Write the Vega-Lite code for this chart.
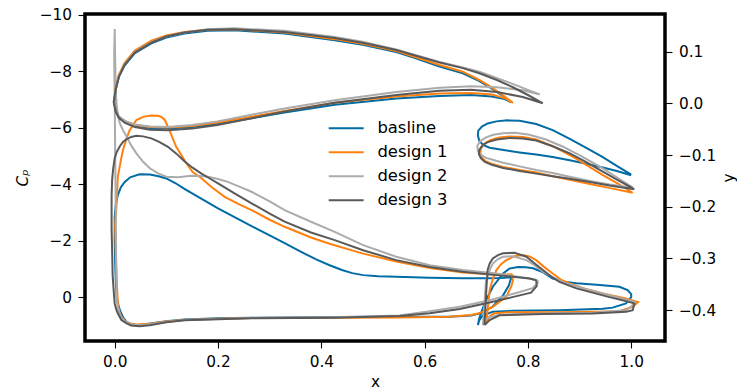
{
  "$schema": "https://vega.github.io/schema/vega-lite/v6.json",
  "width": 580,
  "height": 327,
  "autosize": {"type": "none"},
  "padding": {"left": 85, "top": 14, "right": 72, "bottom": 48},
  "background": "white",
  "config": {
    "font": "DejaVu Sans",
    "view": {"stroke": "black", "strokeWidth": 3.5},
    "axis": {
      "grid": false, "domain": false,
      "tickColor": "black", "tickSize": 7, "tickWidth": 1.1,
      "labelFont": "DejaVu Sans", "labelFontSize": 15.3, "labelColor": "black", "labelPadding": 6.5,
      "labelFlush": false, "labelOverlap": false,
      "labelExpr": "replace(datum.label, '-', '−')",
      "titleFont": "DejaVu Sans", "titleFontSize": 15.3, "titleFontWeight": "normal", "titleColor": "black"
    }
  },
  "datasets": {
    "cp": [
      {"d":"basline","s":"main","x":0.768,"cp":-0.72},{"d":"basline","s":"main","x":0.750,"cp":-0.69},{"d":"basline","s":"main","x":0.720,"cp":-0.68},{"d":"basline","s":"main","x":0.674,"cp":-0.68},{"d":"basline","s":"main","x":0.610,"cp":-0.70},{"d":"basline","s":"main","x":0.545,"cp":-0.73},{"d":"basline","s":"main","x":0.510,"cp":-0.75},{"d":"basline","s":"main","x":0.481,"cp":-0.79},{"d":"basline","s":"main","x":0.460,"cp":-0.86},{"d":"basline","s":"main","x":0.440,"cp":-0.97},{"d":"basline","s":"main","x":0.416,"cp":-1.14},{"d":"basline","s":"main","x":0.390,"cp":-1.35},{"d":"basline","s":"main","x":0.360,"cp":-1.62},{"d":"basline","s":"main","x":0.329,"cp":-1.92},{"d":"basline","s":"main","x":0.300,"cp":-2.20},{"d":"basline","s":"main","x":0.265,"cp":-2.52},{"d":"basline","s":"main","x":0.232,"cp":-2.84},{"d":"basline","s":"main","x":0.200,"cp":-3.15},{"d":"basline","s":"main","x":0.165,"cp":-3.52},{"d":"basline","s":"main","x":0.135,"cp":-3.84},{"d":"basline","s":"main","x":0.118,"cp":-4.04},{"d":"basline","s":"main","x":0.100,"cp":-4.21},{"d":"basline","s":"main","x":0.085,"cp":-4.29},{"d":"basline","s":"main","x":0.068,"cp":-4.35},{"d":"basline","s":"main","x":0.048,"cp":-4.36},{"d":"basline","s":"main","x":0.030,"cp":-4.25},{"d":"basline","s":"main","x":0.019,"cp":-4.08},{"d":"basline","s":"main","x":0.012,"cp":-3.90},{"d":"basline","s":"main","x":0.006,"cp":-3.62},{"d":"basline","s":"main","x":0.002,"cp":-3.27},{"d":"basline","s":"main","x":0.000,"cp":-2.85},{"d":"basline","s":"main","x":0.000,"cp":-2.0},{"d":"basline","s":"main","x":0.001,"cp":-1.2},{"d":"basline","s":"main","x":0.002,"cp":-0.6},{"d":"basline","s":"main","x":0.004,"cp":0.0},{"d":"basline","s":"main","x":0.007,"cp":0.25},{"d":"basline","s":"main","x":0.010,"cp":0.45},{"d":"basline","s":"main","x":0.016,"cp":0.70},{"d":"basline","s":"main","x":0.023,"cp":0.86},{"d":"basline","s":"main","x":0.035,"cp":0.98},{"d":"basline","s":"main","x":0.048,"cp":0.97},{"d":"basline","s":"main","x":0.068,"cp":0.92},{"d":"basline","s":"main","x":0.100,"cp":0.84},{"d":"basline","s":"main","x":0.135,"cp":0.78},{"d":"basline","s":"main","x":0.200,"cp":0.74},{"d":"basline","s":"main","x":0.265,"cp":0.72},{"d":"basline","s":"main","x":0.426,"cp":0.69},{"d":"basline","s":"main","x":0.551,"cp":0.68},{"d":"basline","s":"main","x":0.648,"cp":0.68},{"d":"basline","s":"main","x":0.690,"cp":0.64},{"d":"basline","s":"main","x":0.710,"cp":0.55},{"d":"basline","s":"main","x":0.732,"cp":0.32},{"d":"basline","s":"main","x":0.751,"cp":-0.05},{"d":"basline","s":"main","x":0.763,"cp":-0.42},{"d":"basline","s":"main","x":0.768,"cp":-0.72},

      {"d":"basline","s":"flap","x":0.703,"cp":0.98},{"d":"basline","s":"flap","x":0.706,"cp":0.73},{"d":"basline","s":"flap","x":0.710,"cp":0.51},{"d":"basline","s":"flap","x":0.719,"cp":0.10},{"d":"basline","s":"flap","x":0.732,"cp":-0.38},{"d":"basline","s":"flap","x":0.752,"cp":-0.85},{"d":"basline","s":"flap","x":0.764,"cp":-1.02},{"d":"basline","s":"flap","x":0.781,"cp":-1.08},{"d":"basline","s":"flap","x":0.796,"cp":-1.07},{"d":"basline","s":"flap","x":0.810,"cp":-1.03},{"d":"basline","s":"flap","x":0.828,"cp":-0.90},{"d":"basline","s":"flap","x":0.848,"cp":-0.67},{"d":"basline","s":"flap","x":0.870,"cp":-0.56},{"d":"basline","s":"flap","x":0.894,"cp":-0.50},{"d":"basline","s":"flap","x":0.939,"cp":-0.44},{"d":"basline","s":"flap","x":0.977,"cp":-0.38},{"d":"basline","s":"flap","x":0.993,"cp":-0.26},{"d":"basline","s":"flap","x":1.000,"cp":-0.12},{"d":"basline","s":"flap","x":1.000,"cp":-0.01},{"d":"basline","s":"flap","x":0.990,"cp":0.21},{"d":"basline","s":"flap","x":0.964,"cp":0.36},{"d":"basline","s":"flap","x":0.945,"cp":0.40},{"d":"basline","s":"flap","x":0.861,"cp":0.45},{"d":"basline","s":"flap","x":0.771,"cp":0.47},{"d":"basline","s":"flap","x":0.732,"cp":0.51},{"d":"basline","s":"flap","x":0.713,"cp":0.63},{"d":"basline","s":"flap","x":0.706,"cp":0.80},{"d":"basline","s":"flap","x":0.703,"cp":0.98},

      {"d":"design 1","s":"main","x":0.770,"cp":-0.82},{"d":"design 1","s":"main","x":0.740,"cp":-0.80},{"d":"design 1","s":"main","x":0.674,"cp":-0.88},{"d":"design 1","s":"main","x":0.610,"cp":-1.04},{"d":"design 1","s":"main","x":0.545,"cp":-1.27},{"d":"design 1","s":"main","x":0.481,"cp":-1.55},{"d":"design 1","s":"main","x":0.416,"cp":-1.90},{"d":"design 1","s":"main","x":0.380,"cp":-2.12},{"d":"design 1","s":"main","x":0.329,"cp":-2.50},{"d":"design 1","s":"main","x":0.300,"cp":-2.75},{"d":"design 1","s":"main","x":0.265,"cp":-3.09},{"d":"design 1","s":"main","x":0.240,"cp":-3.30},{"d":"design 1","s":"main","x":0.213,"cp":-3.56},{"d":"design 1","s":"main","x":0.188,"cp":-3.90},{"d":"design 1","s":"main","x":0.168,"cp":-4.22},{"d":"design 1","s":"main","x":0.151,"cp":-4.44},{"d":"design 1","s":"main","x":0.139,"cp":-4.74},{"d":"design 1","s":"main","x":0.129,"cp":-5.04},{"d":"design 1","s":"main","x":0.119,"cp":-5.33},{"d":"design 1","s":"main","x":0.106,"cp":-5.92},{"d":"design 1","s":"main","x":0.097,"cp":-6.28},{"d":"design 1","s":"main","x":0.091,"cp":-6.38},{"d":"design 1","s":"main","x":0.084,"cp":-6.43},{"d":"design 1","s":"main","x":0.070,"cp":-6.44},{"d":"design 1","s":"main","x":0.055,"cp":-6.39},{"d":"design 1","s":"main","x":0.042,"cp":-6.28},{"d":"design 1","s":"main","x":0.029,"cp":-5.92},{"d":"design 1","s":"main","x":0.023,"cp":-5.64},{"d":"design 1","s":"main","x":0.016,"cp":-5.21},{"d":"design 1","s":"main","x":0.012,"cp":-4.86},{"d":"design 1","s":"main","x":0.006,"cp":-4.27},{"d":"design 1","s":"main","x":0.004,"cp":-3.44},{"d":"design 1","s":"main","x":0.001,"cp":-2.56},{"d":"design 1","s":"main","x":0.002,"cp":-1.67},{"d":"design 1","s":"main","x":0.004,"cp":-0.61},{"d":"design 1","s":"main","x":0.006,"cp":0.21},{"d":"design 1","s":"main","x":0.009,"cp":0.50},{"d":"design 1","s":"main","x":0.013,"cp":0.69},{"d":"design 1","s":"main","x":0.020,"cp":0.83},{"d":"design 1","s":"main","x":0.026,"cp":0.90},{"d":"design 1","s":"main","x":0.042,"cp":0.96},{"d":"design 1","s":"main","x":0.068,"cp":0.93},{"d":"design 1","s":"main","x":0.100,"cp":0.85},{"d":"design 1","s":"main","x":0.135,"cp":0.80},{"d":"design 1","s":"main","x":0.200,"cp":0.75},{"d":"design 1","s":"main","x":0.265,"cp":0.73},{"d":"design 1","s":"main","x":0.426,"cp":0.72},{"d":"design 1","s":"main","x":0.551,"cp":0.71},{"d":"design 1","s":"main","x":0.648,"cp":0.68},{"d":"design 1","s":"main","x":0.690,"cp":0.62},{"d":"design 1","s":"main","x":0.706,"cp":0.56},{"d":"design 1","s":"main","x":0.732,"cp":0.33},{"d":"design 1","s":"main","x":0.758,"cp":-0.02},{"d":"design 1","s":"main","x":0.768,"cp":-0.40},{"d":"design 1","s":"main","x":0.771,"cp":-0.60},{"d":"design 1","s":"main","x":0.770,"cp":-0.82},

      {"d":"design 1","s":"flap","x":0.719,"cp":0.92},{"d":"design 1","s":"flap","x":0.722,"cp":0.45},{"d":"design 1","s":"flap","x":0.726,"cp":-0.26},{"d":"design 1","s":"flap","x":0.732,"cp":-0.65},{"d":"design 1","s":"flap","x":0.739,"cp":-0.97},{"d":"design 1","s":"flap","x":0.748,"cp":-1.18},{"d":"design 1","s":"flap","x":0.758,"cp":-1.32},{"d":"design 1","s":"flap","x":0.774,"cp":-1.46},{"d":"design 1","s":"flap","x":0.790,"cp":-1.50},{"d":"design 1","s":"flap","x":0.803,"cp":-1.45},{"d":"design 1","s":"flap","x":0.816,"cp":-1.32},{"d":"design 1","s":"flap","x":0.830,"cp":-1.10},{"d":"design 1","s":"flap","x":0.848,"cp":-0.85},{"d":"design 1","s":"flap","x":0.865,"cp":-0.62},{"d":"design 1","s":"flap","x":0.881,"cp":-0.50},{"d":"design 1","s":"flap","x":0.910,"cp":-0.31},{"d":"design 1","s":"flap","x":0.945,"cp":-0.14},{"d":"design 1","s":"flap","x":0.990,"cp":0.04},{"d":"design 1","s":"flap","x":1.013,"cp":0.17},{"d":"design 1","s":"flap","x":1.003,"cp":0.33},{"d":"design 1","s":"flap","x":0.977,"cp":0.49},{"d":"design 1","s":"flap","x":0.958,"cp":0.50},{"d":"design 1","s":"flap","x":0.861,"cp":0.52},{"d":"design 1","s":"flap","x":0.764,"cp":0.52},{"d":"design 1","s":"flap","x":0.735,"cp":0.56},{"d":"design 1","s":"flap","x":0.726,"cp":0.66},{"d":"design 1","s":"flap","x":0.719,"cp":0.92},

      {"d":"design 2","s":"main","x":0.819,"cp":-0.61},{"d":"design 2","s":"main","x":0.803,"cp":-0.67},{"d":"design 2","s":"main","x":0.739,"cp":-0.85},{"d":"design 2","s":"main","x":0.674,"cp":-0.97},{"d":"design 2","s":"main","x":0.610,"cp":-1.14},{"d":"design 2","s":"main","x":0.545,"cp":-1.44},{"d":"design 2","s":"main","x":0.481,"cp":-1.85},{"d":"design 2","s":"main","x":0.426,"cp":-2.32},{"d":"design 2","s":"main","x":0.380,"cp":-2.68},{"d":"design 2","s":"main","x":0.329,"cp":-3.09},{"d":"design 2","s":"main","x":0.300,"cp":-3.40},{"d":"design 2","s":"main","x":0.265,"cp":-3.74},{"d":"design 2","s":"main","x":0.240,"cp":-3.93},{"d":"design 2","s":"main","x":0.219,"cp":-4.09},{"d":"design 2","s":"main","x":0.200,"cp":-4.19},{"d":"design 2","s":"main","x":0.181,"cp":-4.27},{"d":"design 2","s":"main","x":0.165,"cp":-4.30},{"d":"design 2","s":"main","x":0.148,"cp":-4.31},{"d":"design 2","s":"main","x":0.123,"cp":-4.25},{"d":"design 2","s":"main","x":0.100,"cp":-4.27},{"d":"design 2","s":"main","x":0.085,"cp":-4.38},{"d":"design 2","s":"main","x":0.068,"cp":-4.57},{"d":"design 2","s":"main","x":0.055,"cp":-4.80},{"d":"design 2","s":"main","x":0.042,"cp":-5.10},{"d":"design 2","s":"main","x":0.032,"cp":-5.38},{"d":"design 2","s":"main","x":0.023,"cp":-5.69},{"d":"design 2","s":"main","x":0.016,"cp":-5.92},{"d":"design 2","s":"main","x":0.010,"cp":-6.16},{"d":"design 2","s":"main","x":0.007,"cp":-6.40},{"d":"design 2","s":"main","x":0.004,"cp":-6.75},{"d":"design 2","s":"main","x":0.002,"cp":-7.30},{"d":"design 2","s":"main","x":0.001,"cp":-8.30},{"d":"design 2","s":"main","x":0.000,"cp":-9.50},{"d":"design 2","s":"main","x":-0.001,"cp":-8.5},{"d":"design 2","s":"main","x":0.000,"cp":-7.0},{"d":"design 2","s":"main","x":0.001,"cp":-5.0},{"d":"design 2","s":"main","x":0.002,"cp":-3.0},{"d":"design 2","s":"main","x":0.003,"cp":-1.0},{"d":"design 2","s":"main","x":0.004,"cp":0.10},{"d":"design 2","s":"main","x":0.007,"cp":0.45},{"d":"design 2","s":"main","x":0.013,"cp":0.72},{"d":"design 2","s":"main","x":0.020,"cp":0.85},{"d":"design 2","s":"main","x":0.029,"cp":0.93},{"d":"design 2","s":"main","x":0.042,"cp":0.98},{"d":"design 2","s":"main","x":0.060,"cp":0.97},{"d":"design 2","s":"main","x":0.100,"cp":0.87},{"d":"design 2","s":"main","x":0.135,"cp":0.80},{"d":"design 2","s":"main","x":0.200,"cp":0.76},{"d":"design 2","s":"main","x":0.265,"cp":0.73},{"d":"design 2","s":"main","x":0.426,"cp":0.70},{"d":"design 2","s":"main","x":0.551,"cp":0.64},{"d":"design 2","s":"main","x":0.610,"cp":0.49},{"d":"design 2","s":"main","x":0.668,"cp":0.33},{"d":"design 2","s":"main","x":0.726,"cp":0.10},{"d":"design 2","s":"main","x":0.784,"cp":-0.19},{"d":"design 2","s":"main","x":0.809,"cp":-0.33},{"d":"design 2","s":"main","x":0.819,"cp":-0.51},{"d":"design 2","s":"main","x":0.819,"cp":-0.61},

      {"d":"design 2","s":"flap","x":0.713,"cp":0.98},{"d":"design 2","s":"flap","x":0.715,"cp":0.45},{"d":"design 2","s":"flap","x":0.717,"cp":-0.08},{"d":"design 2","s":"flap","x":0.719,"cp":-0.61},{"d":"design 2","s":"flap","x":0.726,"cp":-0.97},{"d":"design 2","s":"flap","x":0.732,"cp":-1.20},{"d":"design 2","s":"flap","x":0.742,"cp":-1.36},{"d":"design 2","s":"flap","x":0.752,"cp":-1.44},{"d":"design 2","s":"flap","x":0.771,"cp":-1.46},{"d":"design 2","s":"flap","x":0.797,"cp":-1.32},{"d":"design 2","s":"flap","x":0.812,"cp":-1.15},{"d":"design 2","s":"flap","x":0.829,"cp":-0.91},{"d":"design 2","s":"flap","x":0.850,"cp":-0.70},{"d":"design 2","s":"flap","x":0.874,"cp":-0.50},{"d":"design 2","s":"flap","x":0.910,"cp":-0.31},{"d":"design 2","s":"flap","x":0.945,"cp":-0.14},{"d":"design 2","s":"flap","x":0.987,"cp":0.06},{"d":"design 2","s":"flap","x":1.006,"cp":0.16},{"d":"design 2","s":"flap","x":1.001,"cp":0.31},{"d":"design 2","s":"flap","x":0.990,"cp":0.45},{"d":"design 2","s":"flap","x":0.925,"cp":0.54},{"d":"design 2","s":"flap","x":0.829,"cp":0.57},{"d":"design 2","s":"flap","x":0.745,"cp":0.61},{"d":"design 2","s":"flap","x":0.726,"cp":0.70},{"d":"design 2","s":"flap","x":0.716,"cp":0.80},{"d":"design 2","s":"flap","x":0.713,"cp":0.98},

      {"d":"design 3","s":"main","x":0.816,"cp":-0.61},{"d":"design 3","s":"main","x":0.803,"cp":-0.67},{"d":"design 3","s":"main","x":0.739,"cp":-0.79},{"d":"design 3","s":"main","x":0.674,"cp":-0.91},{"d":"design 3","s":"main","x":0.610,"cp":-1.08},{"d":"design 3","s":"main","x":0.545,"cp":-1.32},{"d":"design 3","s":"main","x":0.481,"cp":-1.67},{"d":"design 3","s":"main","x":0.426,"cp":-2.03},{"d":"design 3","s":"main","x":0.380,"cp":-2.30},{"d":"design 3","s":"main","x":0.329,"cp":-2.68},{"d":"design 3","s":"main","x":0.300,"cp":-2.97},{"d":"design 3","s":"main","x":0.265,"cp":-3.33},{"d":"design 3","s":"main","x":0.232,"cp":-3.68},{"d":"design 3","s":"main","x":0.200,"cp":-4.04},{"d":"design 3","s":"main","x":0.185,"cp":-4.20},{"d":"design 3","s":"main","x":0.168,"cp":-4.38},{"d":"design 3","s":"main","x":0.150,"cp":-4.60},{"d":"design 3","s":"main","x":0.135,"cp":-4.82},{"d":"design 3","s":"main","x":0.120,"cp":-5.08},{"d":"design 3","s":"main","x":0.103,"cp":-5.33},{"d":"design 3","s":"main","x":0.087,"cp":-5.50},{"d":"design 3","s":"main","x":0.071,"cp":-5.63},{"d":"design 3","s":"main","x":0.055,"cp":-5.70},{"d":"design 3","s":"main","x":0.042,"cp":-5.72},{"d":"design 3","s":"main","x":0.032,"cp":-5.68},{"d":"design 3","s":"main","x":0.023,"cp":-5.60},{"d":"design 3","s":"main","x":0.016,"cp":-5.50},{"d":"design 3","s":"main","x":0.010,"cp":-5.35},{"d":"design 3","s":"main","x":0.004,"cp":-5.15},{"d":"design 3","s":"main","x":0.000,"cp":-4.93},{"d":"design 3","s":"main","x":-0.003,"cp":-4.55},{"d":"design 3","s":"main","x":-0.005,"cp":-4.15},{"d":"design 3","s":"main","x":-0.006,"cp":-3.60},{"d":"design 3","s":"main","x":-0.006,"cp":-3.09},{"d":"design 3","s":"main","x":-0.006,"cp":-2.40},{"d":"design 3","s":"main","x":-0.005,"cp":-1.67},{"d":"design 3","s":"main","x":-0.004,"cp":-0.79},{"d":"design 3","s":"main","x":-0.002,"cp":-0.25},{"d":"design 3","s":"main","x":0.000,"cp":0.21},{"d":"design 3","s":"main","x":0.003,"cp":0.42},{"d":"design 3","s":"main","x":0.006,"cp":0.56},{"d":"design 3","s":"main","x":0.013,"cp":0.80},{"d":"design 3","s":"main","x":0.023,"cp":0.92},{"d":"design 3","s":"main","x":0.032,"cp":0.99},{"d":"design 3","s":"main","x":0.048,"cp":1.02},{"d":"design 3","s":"main","x":0.068,"cp":0.98},{"d":"design 3","s":"main","x":0.100,"cp":0.88},{"d":"design 3","s":"main","x":0.135,"cp":0.81},{"d":"design 3","s":"main","x":0.200,"cp":0.77},{"d":"design 3","s":"main","x":0.265,"cp":0.74},{"d":"design 3","s":"main","x":0.426,"cp":0.72},{"d":"design 3","s":"main","x":0.551,"cp":0.66},{"d":"design 3","s":"main","x":0.610,"cp":0.56},{"d":"design 3","s":"main","x":0.668,"cp":0.41},{"d":"design 3","s":"main","x":0.726,"cp":0.18},{"d":"design 3","s":"main","x":0.774,"cp":-0.03},{"d":"design 3","s":"main","x":0.806,"cp":-0.17},{"d":"design 3","s":"main","x":0.817,"cp":-0.40},{"d":"design 3","s":"main","x":0.816,"cp":-0.61},

      {"d":"design 3","s":"flap","x":0.716,"cp":0.98},{"d":"design 3","s":"flap","x":0.718,"cp":0.27},{"d":"design 3","s":"flap","x":0.720,"cp":-0.44},{"d":"design 3","s":"flap","x":0.722,"cp":-0.97},{"d":"design 3","s":"flap","x":0.726,"cp":-1.20},{"d":"design 3","s":"flap","x":0.732,"cp":-1.38},{"d":"design 3","s":"flap","x":0.742,"cp":-1.50},{"d":"design 3","s":"flap","x":0.752,"cp":-1.56},{"d":"design 3","s":"flap","x":0.774,"cp":-1.58},{"d":"design 3","s":"flap","x":0.797,"cp":-1.44},{"d":"design 3","s":"flap","x":0.812,"cp":-1.22},{"d":"design 3","s":"flap","x":0.829,"cp":-0.97},{"d":"design 3","s":"flap","x":0.845,"cp":-0.74},{"d":"design 3","s":"flap","x":0.861,"cp":-0.55},{"d":"design 3","s":"flap","x":0.894,"cp":-0.32},{"d":"design 3","s":"flap","x":0.925,"cp":-0.17},{"d":"design 3","s":"flap","x":0.956,"cp":-0.02},{"d":"design 3","s":"flap","x":0.985,"cp":0.11},{"d":"design 3","s":"flap","x":1.006,"cp":0.21},{"d":"design 3","s":"flap","x":1.003,"cp":0.45},{"d":"design 3","s":"flap","x":0.990,"cp":0.51},{"d":"design 3","s":"flap","x":0.925,"cp":0.57},{"d":"design 3","s":"flap","x":0.829,"cp":0.59},{"d":"design 3","s":"flap","x":0.745,"cp":0.63},{"d":"design 3","s":"flap","x":0.726,"cp":0.80},{"d":"design 3","s":"flap","x":0.716,"cp":0.98}
    ],
    "geo": [
      {"d":"basline","s":"main","x":0.768,"y":0.002},{"d":"basline","s":"main","x":0.750,"y":0.015},{"d":"basline","s":"main","x":0.726,"y":0.031},{"d":"basline","s":"main","x":0.706,"y":0.043},{"d":"basline","s":"main","x":0.674,"y":0.058},{"d":"basline","s":"main","x":0.629,"y":0.071},{"d":"basline","s":"main","x":0.580,"y":0.088},{"d":"basline","s":"main","x":0.545,"y":0.099},{"d":"basline","s":"main","x":0.480,"y":0.113},{"d":"basline","s":"main","x":0.426,"y":0.122},{"d":"basline","s":"main","x":0.329,"y":0.135},{"d":"basline","s":"main","x":0.232,"y":0.141},{"d":"basline","s":"main","x":0.180,"y":0.140},{"d":"basline","s":"main","x":0.135,"y":0.135},{"d":"basline","s":"main","x":0.100,"y":0.127},{"d":"basline","s":"main","x":0.071,"y":0.116},{"d":"basline","s":"main","x":0.039,"y":0.097},{"d":"basline","s":"main","x":0.019,"y":0.073},{"d":"basline","s":"main","x":0.008,"y":0.051},{"d":"basline","s":"main","x":0.002,"y":0.027},{"d":"basline","s":"main","x":-0.001,"y":0.003},{"d":"basline","s":"main","x":0.002,"y":-0.015},{"d":"basline","s":"main","x":0.008,"y":-0.027},{"d":"basline","s":"main","x":0.020,"y":-0.036},{"d":"basline","s":"main","x":0.039,"y":-0.043},{"d":"basline","s":"main","x":0.068,"y":-0.048},{"d":"basline","s":"main","x":0.103,"y":-0.049},{"d":"basline","s":"main","x":0.150,"y":-0.046},{"d":"basline","s":"main","x":0.199,"y":-0.040},{"d":"basline","s":"main","x":0.265,"y":-0.029},{"d":"basline","s":"main","x":0.329,"y":-0.018},{"d":"basline","s":"main","x":0.426,"y":-0.003},{"d":"basline","s":"main","x":0.545,"y":0.009},{"d":"basline","s":"main","x":0.629,"y":0.014},{"d":"basline","s":"main","x":0.690,"y":0.016},{"d":"basline","s":"main","x":0.730,"y":0.013},{"d":"basline","s":"main","x":0.755,"y":0.008},{"d":"basline","s":"main","x":0.768,"y":0.002},

      {"d":"basline","s":"flap","x":1.000,"y":-0.138},{"d":"basline","s":"flap","x":0.972,"y":-0.121},{"d":"basline","s":"flap","x":0.945,"y":-0.104},{"d":"basline","s":"flap","x":0.913,"y":-0.086},{"d":"basline","s":"flap","x":0.881,"y":-0.069},{"d":"basline","s":"flap","x":0.848,"y":-0.052},{"d":"basline","s":"flap","x":0.816,"y":-0.040},{"d":"basline","s":"flap","x":0.784,"y":-0.034},{"d":"basline","s":"flap","x":0.760,"y":-0.033},{"d":"basline","s":"flap","x":0.739,"y":-0.035},{"d":"basline","s":"flap","x":0.722,"y":-0.039},{"d":"basline","s":"flap","x":0.711,"y":-0.045},{"d":"basline","s":"flap","x":0.704,"y":-0.053},{"d":"basline","s":"flap","x":0.703,"y":-0.062},{"d":"basline","s":"flap","x":0.706,"y":-0.073},{"d":"basline","s":"flap","x":0.714,"y":-0.081},{"d":"basline","s":"flap","x":0.726,"y":-0.086},{"d":"basline","s":"flap","x":0.750,"y":-0.090},{"d":"basline","s":"flap","x":0.784,"y":-0.095},{"d":"basline","s":"flap","x":0.816,"y":-0.099},{"d":"basline","s":"flap","x":0.848,"y":-0.104},{"d":"basline","s":"flap","x":0.881,"y":-0.110},{"d":"basline","s":"flap","x":0.913,"y":-0.117},{"d":"basline","s":"flap","x":0.945,"y":-0.124},{"d":"basline","s":"flap","x":0.972,"y":-0.131},{"d":"basline","s":"flap","x":1.000,"y":-0.139},

      {"d":"design 1","s":"main","x":0.771,"y":0.001},{"d":"design 1","s":"main","x":0.752,"y":0.015},{"d":"design 1","s":"main","x":0.726,"y":0.033},{"d":"design 1","s":"main","x":0.706,"y":0.045},{"d":"design 1","s":"main","x":0.674,"y":0.061},{"d":"design 1","s":"main","x":0.629,"y":0.074},{"d":"design 1","s":"main","x":0.580,"y":0.090},{"d":"design 1","s":"main","x":0.545,"y":0.101},{"d":"design 1","s":"main","x":0.480,"y":0.115},{"d":"design 1","s":"main","x":0.426,"y":0.124},{"d":"design 1","s":"main","x":0.329,"y":0.137},{"d":"design 1","s":"main","x":0.232,"y":0.143},{"d":"design 1","s":"main","x":0.180,"y":0.142},{"d":"design 1","s":"main","x":0.135,"y":0.138},{"d":"design 1","s":"main","x":0.100,"y":0.131},{"d":"design 1","s":"main","x":0.071,"y":0.121},{"d":"design 1","s":"main","x":0.039,"y":0.102},{"d":"design 1","s":"main","x":0.019,"y":0.078},{"d":"design 1","s":"main","x":0.008,"y":0.055},{"d":"design 1","s":"main","x":0.002,"y":0.030},{"d":"design 1","s":"main","x":-0.001,"y":0.004},{"d":"design 1","s":"main","x":0.002,"y":-0.014},{"d":"design 1","s":"main","x":0.008,"y":-0.026},{"d":"design 1","s":"main","x":0.020,"y":-0.035},{"d":"design 1","s":"main","x":0.039,"y":-0.042},{"d":"design 1","s":"main","x":0.068,"y":-0.046},{"d":"design 1","s":"main","x":0.103,"y":-0.047},{"d":"design 1","s":"main","x":0.150,"y":-0.044},{"d":"design 1","s":"main","x":0.199,"y":-0.037},{"d":"design 1","s":"main","x":0.265,"y":-0.026},{"d":"design 1","s":"main","x":0.329,"y":-0.015},{"d":"design 1","s":"main","x":0.426,"y":0.001},{"d":"design 1","s":"main","x":0.545,"y":0.013},{"d":"design 1","s":"main","x":0.629,"y":0.019},{"d":"design 1","s":"main","x":0.690,"y":0.020},{"d":"design 1","s":"main","x":0.730,"y":0.017},{"d":"design 1","s":"main","x":0.755,"y":0.010},{"d":"design 1","s":"main","x":0.771,"y":0.001},

      {"d":"design 1","s":"flap","x":1.003,"y":-0.173},{"d":"design 1","s":"flap","x":0.975,"y":-0.156},{"d":"design 1","s":"flap","x":0.945,"y":-0.139},{"d":"design 1","s":"flap","x":0.913,"y":-0.119},{"d":"design 1","s":"flap","x":0.881,"y":-0.100},{"d":"design 1","s":"flap","x":0.848,"y":-0.083},{"d":"design 1","s":"flap","x":0.816,"y":-0.070},{"d":"design 1","s":"flap","x":0.790,"y":-0.065},{"d":"design 1","s":"flap","x":0.764,"y":-0.064},{"d":"design 1","s":"flap","x":0.745,"y":-0.066},{"d":"design 1","s":"flap","x":0.728,"y":-0.071},{"d":"design 1","s":"flap","x":0.716,"y":-0.078},{"d":"design 1","s":"flap","x":0.709,"y":-0.087},{"d":"design 1","s":"flap","x":0.708,"y":-0.096},{"d":"design 1","s":"flap","x":0.711,"y":-0.105},{"d":"design 1","s":"flap","x":0.718,"y":-0.112},{"d":"design 1","s":"flap","x":0.733,"y":-0.118},{"d":"design 1","s":"flap","x":0.752,"y":-0.123},{"d":"design 1","s":"flap","x":0.784,"y":-0.129},{"d":"design 1","s":"flap","x":0.816,"y":-0.134},{"d":"design 1","s":"flap","x":0.848,"y":-0.141},{"d":"design 1","s":"flap","x":0.881,"y":-0.148},{"d":"design 1","s":"flap","x":0.920,"y":-0.156},{"d":"design 1","s":"flap","x":0.964,"y":-0.165},{"d":"design 1","s":"flap","x":1.003,"y":-0.173},

      {"d":"design 2","s":"main","x":0.823,"y":0.017},{"d":"design 2","s":"main","x":0.800,"y":0.026},{"d":"design 2","s":"main","x":0.764,"y":0.040},{"d":"design 2","s":"main","x":0.726,"y":0.054},{"d":"design 2","s":"main","x":0.706,"y":0.061},{"d":"design 2","s":"main","x":0.674,"y":0.069},{"d":"design 2","s":"main","x":0.629,"y":0.080},{"d":"design 2","s":"main","x":0.580,"y":0.094},{"d":"design 2","s":"main","x":0.545,"y":0.104},{"d":"design 2","s":"main","x":0.480,"y":0.119},{"d":"design 2","s":"main","x":0.426,"y":0.128},{"d":"design 2","s":"main","x":0.329,"y":0.140},{"d":"design 2","s":"main","x":0.232,"y":0.145},{"d":"design 2","s":"main","x":0.180,"y":0.143},{"d":"design 2","s":"main","x":0.135,"y":0.137},{"d":"design 2","s":"main","x":0.100,"y":0.129},{"d":"design 2","s":"main","x":0.071,"y":0.118},{"d":"design 2","s":"main","x":0.039,"y":0.099},{"d":"design 2","s":"main","x":0.019,"y":0.075},{"d":"design 2","s":"main","x":0.008,"y":0.052},{"d":"design 2","s":"main","x":0.002,"y":0.028},{"d":"design 2","s":"main","x":-0.001,"y":0.004},{"d":"design 2","s":"main","x":0.002,"y":-0.014},{"d":"design 2","s":"main","x":0.008,"y":-0.025},{"d":"design 2","s":"main","x":0.020,"y":-0.034},{"d":"design 2","s":"main","x":0.039,"y":-0.041},{"d":"design 2","s":"main","x":0.068,"y":-0.045},{"d":"design 2","s":"main","x":0.103,"y":-0.046},{"d":"design 2","s":"main","x":0.150,"y":-0.042},{"d":"design 2","s":"main","x":0.199,"y":-0.035},{"d":"design 2","s":"main","x":0.265,"y":-0.022},{"d":"design 2","s":"main","x":0.329,"y":-0.010},{"d":"design 2","s":"main","x":0.426,"y":0.006},{"d":"design 2","s":"main","x":0.545,"y":0.022},{"d":"design 2","s":"main","x":0.629,"y":0.030},{"d":"design 2","s":"main","x":0.690,"y":0.033},{"d":"design 2","s":"main","x":0.740,"y":0.031},{"d":"design 2","s":"main","x":0.790,"y":0.025},{"d":"design 2","s":"main","x":0.823,"y":0.017},

      {"d":"design 2","s":"flap","x":1.003,"y":-0.163},{"d":"design 2","s":"flap","x":0.975,"y":-0.145},{"d":"design 2","s":"flap","x":0.945,"y":-0.126},{"d":"design 2","s":"flap","x":0.905,"y":-0.103},{"d":"design 2","s":"flap","x":0.868,"y":-0.084},{"d":"design 2","s":"flap","x":0.835,"y":-0.070},{"d":"design 2","s":"flap","x":0.803,"y":-0.061},{"d":"design 2","s":"flap","x":0.775,"y":-0.057},{"d":"design 2","s":"flap","x":0.752,"y":-0.058},{"d":"design 2","s":"flap","x":0.733,"y":-0.061},{"d":"design 2","s":"flap","x":0.719,"y":-0.066},{"d":"design 2","s":"flap","x":0.708,"y":-0.073},{"d":"design 2","s":"flap","x":0.702,"y":-0.082},{"d":"design 2","s":"flap","x":0.703,"y":-0.092},{"d":"design 2","s":"flap","x":0.708,"y":-0.099},{"d":"design 2","s":"flap","x":0.718,"y":-0.105},{"d":"design 2","s":"flap","x":0.735,"y":-0.110},{"d":"design 2","s":"flap","x":0.752,"y":-0.115},{"d":"design 2","s":"flap","x":0.784,"y":-0.122},{"d":"design 2","s":"flap","x":0.816,"y":-0.129},{"d":"design 2","s":"flap","x":0.848,"y":-0.135},{"d":"design 2","s":"flap","x":0.881,"y":-0.142},{"d":"design 2","s":"flap","x":0.920,"y":-0.150},{"d":"design 2","s":"flap","x":0.958,"y":-0.157},{"d":"design 2","s":"flap","x":1.003,"y":-0.163},

      {"d":"design 3","s":"main","x":0.829,"y":0.000},{"d":"design 3","s":"main","x":0.800,"y":0.016},{"d":"design 3","s":"main","x":0.771,"y":0.031},{"d":"design 3","s":"main","x":0.740,"y":0.045},{"d":"design 3","s":"main","x":0.706,"y":0.058},{"d":"design 3","s":"main","x":0.674,"y":0.068},{"d":"design 3","s":"main","x":0.629,"y":0.079},{"d":"design 3","s":"main","x":0.580,"y":0.093},{"d":"design 3","s":"main","x":0.545,"y":0.103},{"d":"design 3","s":"main","x":0.480,"y":0.117},{"d":"design 3","s":"main","x":0.426,"y":0.126},{"d":"design 3","s":"main","x":0.329,"y":0.138},{"d":"design 3","s":"main","x":0.232,"y":0.143},{"d":"design 3","s":"main","x":0.180,"y":0.142},{"d":"design 3","s":"main","x":0.135,"y":0.137},{"d":"design 3","s":"main","x":0.100,"y":0.129},{"d":"design 3","s":"main","x":0.071,"y":0.117},{"d":"design 3","s":"main","x":0.039,"y":0.098},{"d":"design 3","s":"main","x":0.019,"y":0.074},{"d":"design 3","s":"main","x":0.008,"y":0.051},{"d":"design 3","s":"main","x":0.002,"y":0.027},{"d":"design 3","s":"main","x":-0.002,"y":0.002},{"d":"design 3","s":"main","x":0.002,"y":-0.016},{"d":"design 3","s":"main","x":0.008,"y":-0.028},{"d":"design 3","s":"main","x":0.020,"y":-0.038},{"d":"design 3","s":"main","x":0.039,"y":-0.046},{"d":"design 3","s":"main","x":0.068,"y":-0.051},{"d":"design 3","s":"main","x":0.103,"y":-0.052},{"d":"design 3","s":"main","x":0.150,"y":-0.049},{"d":"design 3","s":"main","x":0.199,"y":-0.042},{"d":"design 3","s":"main","x":0.265,"y":-0.029},{"d":"design 3","s":"main","x":0.329,"y":-0.016},{"d":"design 3","s":"main","x":0.426,"y":0.001},{"d":"design 3","s":"main","x":0.545,"y":0.016},{"d":"design 3","s":"main","x":0.629,"y":0.024},{"d":"design 3","s":"main","x":0.690,"y":0.026},{"d":"design 3","s":"main","x":0.740,"y":0.022},{"d":"design 3","s":"main","x":0.790,"y":0.012},{"d":"design 3","s":"main","x":0.829,"y":0.000},

      {"d":"design 3","s":"flap","x":1.006,"y":-0.166},{"d":"design 3","s":"flap","x":0.975,"y":-0.149},{"d":"design 3","s":"flap","x":0.945,"y":-0.132},{"d":"design 3","s":"flap","x":0.913,"y":-0.114},{"d":"design 3","s":"flap","x":0.881,"y":-0.097},{"d":"design 3","s":"flap","x":0.848,"y":-0.083},{"d":"design 3","s":"flap","x":0.816,"y":-0.072},{"d":"design 3","s":"flap","x":0.790,"y":-0.068},{"d":"design 3","s":"flap","x":0.764,"y":-0.067},{"d":"design 3","s":"flap","x":0.740,"y":-0.070},{"d":"design 3","s":"flap","x":0.722,"y":-0.075},{"d":"design 3","s":"flap","x":0.712,"y":-0.081},{"d":"design 3","s":"flap","x":0.706,"y":-0.090},{"d":"design 3","s":"flap","x":0.705,"y":-0.098},{"d":"design 3","s":"flap","x":0.709,"y":-0.106},{"d":"design 3","s":"flap","x":0.716,"y":-0.113},{"d":"design 3","s":"flap","x":0.730,"y":-0.119},{"d":"design 3","s":"flap","x":0.752,"y":-0.125},{"d":"design 3","s":"flap","x":0.784,"y":-0.131},{"d":"design 3","s":"flap","x":0.816,"y":-0.136},{"d":"design 3","s":"flap","x":0.848,"y":-0.141},{"d":"design 3","s":"flap","x":0.881,"y":-0.146},{"d":"design 3","s":"flap","x":0.920,"y":-0.152},{"d":"design 3","s":"flap","x":0.958,"y":-0.159},{"d":"design 3","s":"flap","x":1.006,"y":-0.166}
    ]
  },
  "layer": [
    {
      "data": {"name": "cp"},
      "mark": {"type": "line", "strokeWidth": 2, "clip": true},
      "encoding": {
        "x": {
          "field": "x", "type": "quantitative",
          "scale": {"domain": [-0.0575, 1.0654], "nice": false, "zero": false},
          "axis": {"values": [0, 0.2, 0.4, 0.6, 0.8, 1.0], "format": ".1f", "title": "x", "titleBaseline": "alphabetic", "titleY": 45}
        },
        "y": {
          "field": "cp", "type": "quantitative",
          "scale": {"domain": [-10.03, 1.541], "reverse": true, "nice": false, "zero": false},
          "axis": {"orient": "left", "values": [-10, -8, -6, -4, -2, 0], "format": "d", "title": "Cₚ", "titleFontStyle": "italic", "titleAngle": 270, "titleBaseline": "middle", "titleAlign": "center", "titleX": -63, "titleY": 163.5}
        },
        "color": {
          "field": "d", "type": "nominal",
          "scale": {"domain": ["basline", "design 1", "design 2", "design 3"], "range": ["#006BA4", "#FF800E", "#ABABAB", "#595959"]},
          "legend": {
            "title": null, "orient": "none", "legendX": 253, "legendY": 106, "padding": 0,
            "symbolType": "M-3,0H3", "symbolSize": 136, "symbolStrokeWidth": 2,
            "labelFont": "DejaVu Sans", "labelFontSize": 16.4, "labelColor": "black",
            "rowPadding": 7, "labelOffset": 23
          }
        },
        "detail": {"field": "s"},
        "order": {"value": null}
      }
    },
    {
      "data": {"name": "geo"},
      "mark": {"type": "line", "strokeWidth": 2, "clip": true},
      "encoding": {
        "x": {"field": "x", "type": "quantitative"},
        "y": {
          "field": "y", "type": "quantitative",
          "scale": {"domain": [-0.4596, 0.1726], "nice": false, "zero": false},
          "axis": {"orient": "right", "values": [0.1, 0.0, -0.1, -0.2, -0.3, -0.4], "format": ".1f", "title": "y", "titleAngle": 270, "titleBaseline": "middle", "titleAlign": "center", "titleX": 63, "titleY": 163.5}
        },
        "color": {"field": "d", "type": "nominal"},
        "detail": {"field": "s"},
        "order": {"value": null}
      }
    }
  ],
  "resolve": {"scale": {"y": "independent"}}
}
